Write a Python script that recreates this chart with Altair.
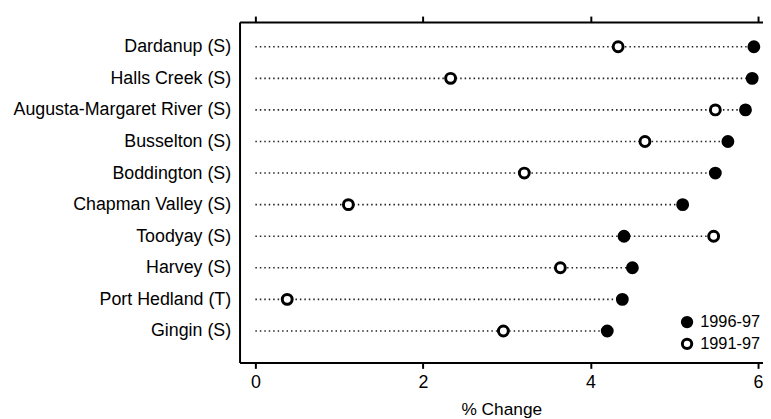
import altair as alt
import pandas as pd

names = ["Dardanup (S)", "Halls Creek (S)", "Augusta-Margaret River (S)", "Busselton (S)",
         "Boddington (S)", "Chapman Valley (S)", "Toodyay (S)", "Harvey (S)",
         "Port Hedland (T)", "Gingin (S)"]
v9697 = [5.95, 5.93, 5.85, 5.64, 5.49, 5.10, 4.40, 4.50, 4.38, 4.20]
v9197 = [4.33, 2.33, 5.49, 4.65, 3.21, 1.11, 5.47, 3.64, 0.38, 2.96]
series_names = ["1996-97", "1991-97"]
x_ticks = [0, 2, 4, 6]

rows = []
for n, a, b in zip(names, v9697, v9197):
    rows.append({"name": n, "series": series_names[0], "value": a})
    rows.append({"name": n, "series": series_names[1], "value": b})
pts = pd.DataFrame(rows)
rules = pd.DataFrame({"name": names,
                      "lo": [0] * len(names),
                      "hi": [max(a, b) for a, b in zip(v9697, v9197)]})

FONT = "Liberation Sans"
xscale = alt.Scale(domain=[-0.189, 6.059], nice=False, zero=False)
yscale = alt.Scale(type="point", domain=names, padding=0.89, align=0.44)

yenc = alt.Y("name:N", sort=names, scale=yscale,
             axis=alt.Axis(title=None, ticks=False, labelFontSize=18, labelFont=FONT,
                           labelColor="black", labelPadding=9, labelLimit=0,
                           domainColor="black", domainWidth=2, grid=False))

rule = alt.Chart(rules).mark_rule(strokeDash=[1.5, 3], strokeWidth=1.6, color="#222").encode(
    x=alt.X("lo:Q", scale=xscale,
            axis=alt.Axis(orient="top", values=x_ticks, labels=False, title=None,
                          tickSize=6, tickColor="black", tickWidth=2,
                          domainColor="black", domainWidth=2, grid=False)),
    x2="hi:Q",
    y=yenc,
)

points = alt.Chart(pts).mark_point(shape="circle", size=100, strokeWidth=3, stroke="black",
                                   opacity=1, fillOpacity=1).encode(
    x=alt.X("value:Q", scale=xscale,
            axis=alt.Axis(orient="bottom", values=x_ticks, title="% Change",
                          labelFontSize=18, labelFont=FONT, labelColor="black",
                          labelPadding=5, tickSize=6, tickColor="black", tickWidth=2,
                          domainColor="black", domainWidth=2, grid=False,
                          titleFont=FONT, titleFontSize=17.5, titleFontWeight="normal",
                          titleColor="black", titlePadding=10)),
    y=yenc,
    fill=alt.Fill("series:N", scale=alt.Scale(domain=series_names, range=["black", "white"]),
                  legend=alt.Legend(orient="none", legendX=444, legendY=295, title=None,
                                    labelFontSize=16.5, labelFont=FONT, labelColor="black",
                                    symbolType="circle", symbolSize=90,
                                    symbolStrokeWidth=3, symbolStrokeColor="black",
                                    symbolOpacity=1, padding=0, rowPadding=0, labelOffset=5)),
)

chart = alt.layer(rule, points).resolve_axis(x="independent").resolve_scale(x="shared").properties(
    width=529, height=344,
    padding={"left": 234, "top": 12, "right": 0, "bottom": 55},
    autosize=alt.AutoSizeParams(type="none"),
).configure_view(stroke="transparent").configure(background="white")

chart.save("out.html", embed_options={"renderer": "svg", "actions": False})
